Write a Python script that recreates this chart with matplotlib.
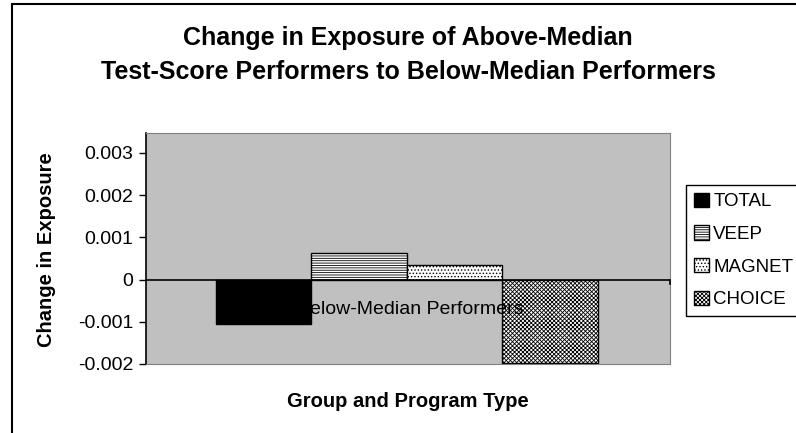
import matplotlib
matplotlib.use('Agg')
import matplotlib.pyplot as plt
from matplotlib.patches import Rectangle

plt.rcParams['font.family'] = ['Liberation Sans', 'DejaVu Sans']
plt.rcParams['hatch.linewidth'] = 0.6

# data
series = ['TOTAL', 'VEEP', 'MAGNET', 'CHOICE']
values = [-0.00105, 0.00063, 0.00034, -0.00198]
category = 'Below-Median Performers'
colors = ['black', 'white', 'white', 'white']
hatches = [None, '-------', '.....', 'xxxxxxxx']

W, H = 796, 433
fig = plt.figure(figsize=(W / 100, H / 100), dpi=100)

# outer chart border
fig.patches.append(Rectangle((12 / W, -0.1), 1.2, 1 - 4 / H + 0.1,
                             transform=fig.transFigure, fill=False,
                             edgecolor='black', lw=1.5))

ax = fig.add_axes([146 / W, 1 - 364 / H, 524 / W, 231 / H])
ax.set_facecolor('#c0c0c0')

pos = list(range(len(series)))
bars = ax.bar(pos, values, width=1.0, color=colors, edgecolor='black',
              linewidth=1.0, label=series, zorder=2)
for b, h in zip(bars, hatches):
    if h:
        b.set_hatch(h)

ax.set_xlim(-1.233, 4.254)
ax.set_ylim(-0.002, 0.00347)
ax.set_yticks([-0.002, -0.001, 0, 0.001, 0.002, 0.003])
ax.set_yticklabels(['-0.002', '-0.001', '0', '0.001', '0.002', '0.003'], fontsize=14)
ax.tick_params(axis='y', direction='out', length=5, width=1, pad=4)
ax.set_xticks([])

for s in ['top', 'right', 'bottom']:
    ax.spines[s].set_color('#808080')
ax.spines['left'].set_color('black')
ax.spines['left'].set_linewidth(1.2)

# category axis at zero
ax.axhline(0, color='black', lw=1.2, zorder=3)
ax.plot([4.254, 4.254], [0, -0.0001], color='black', lw=1.2, clip_on=False, zorder=3)
ax.text(1.53, -0.00082, category, ha='center', va='baseline', fontsize=14, zorder=4)

fig.text(47 / W, 1 - 250 / H, 'Change in Exposure', rotation=90, ha='center',
         va='center', fontsize=14.5, fontweight='bold')
fig.text(408 / W, 1 - 407 / H, 'Group and Program Type', ha='center', va='baseline',
         fontsize=14.5, fontweight='bold')
fig.text(408 / W, 1 - 45 / H, 'Change in Exposure of Above-Median',
         ha='center', va='baseline', fontsize=18, fontweight='bold')
fig.text(408 / W, 1 - 79 / H, 'Test-Score Performers to Below-Median Performers',
         ha='center', va='baseline', fontsize=18, fontweight='bold')

leg = fig.legend(handles=bars, labels=series, loc='upper left',
                 bbox_to_anchor=(686 / W, 1 - 185 / H), fontsize=13.5,
                 handlelength=0.8, handleheight=0.8, handletextpad=0.25,
                 labelspacing=0.8, borderpad=0.4, borderaxespad=0,
                 fancybox=False, framealpha=1)
leg.get_frame().set_edgecolor('black')
leg.get_frame().set_linewidth(1.0)

fig.savefig('out.png', dpi=100)
